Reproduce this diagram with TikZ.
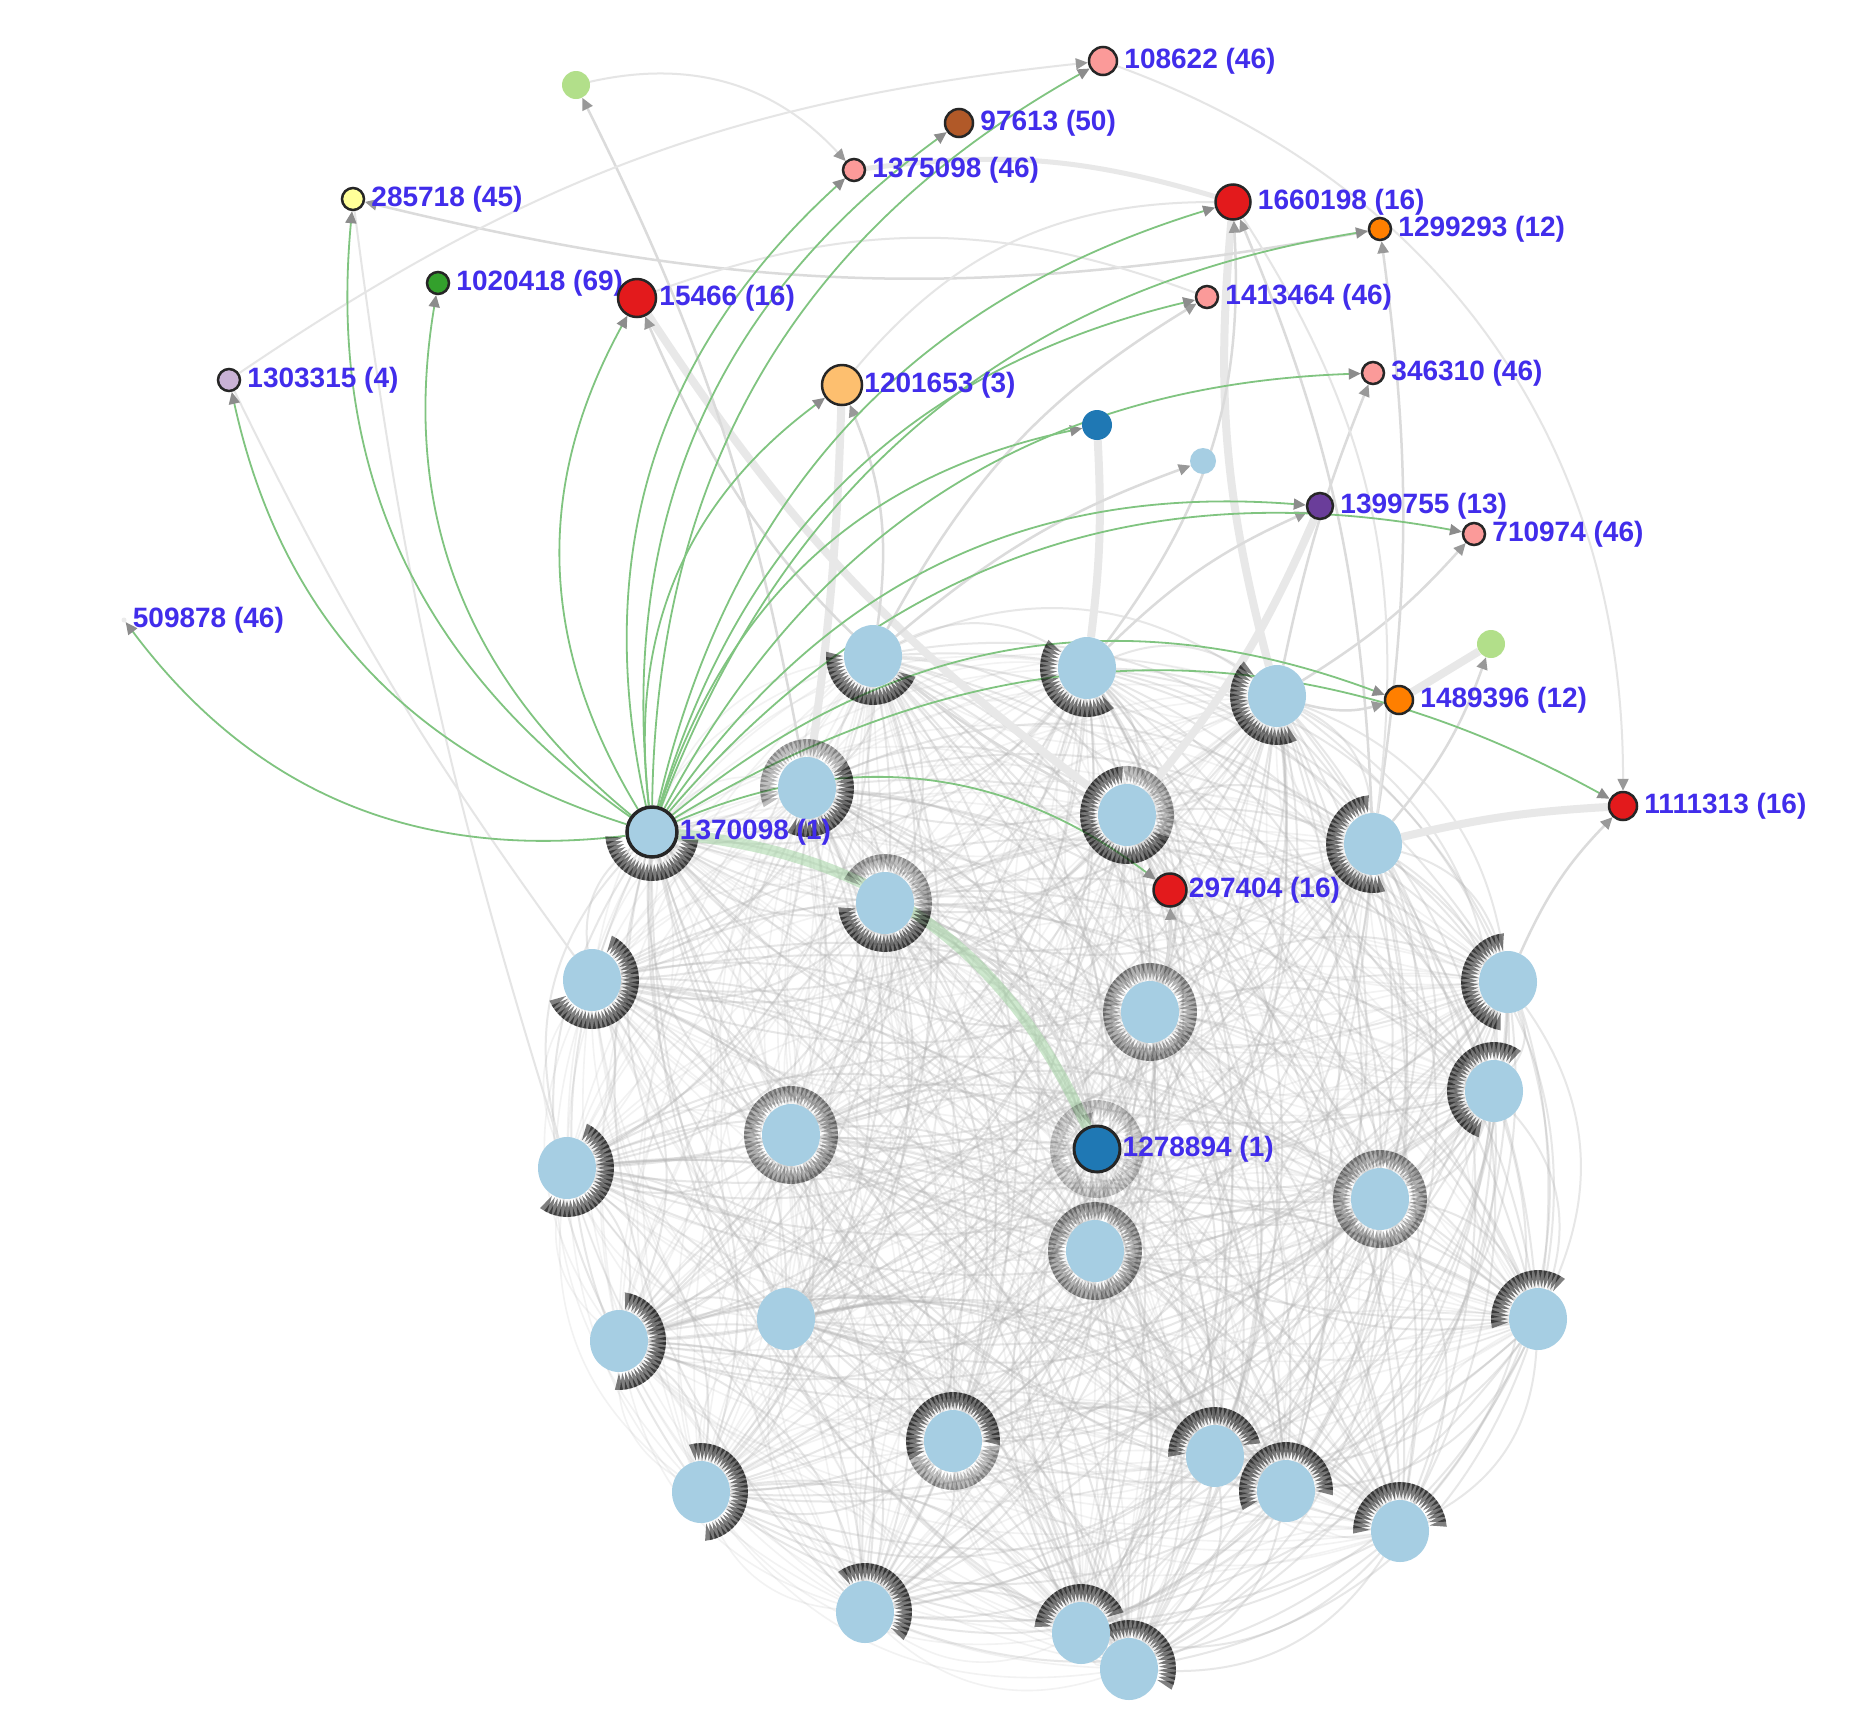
\documentclass[tikz,border=0pt]{standalone}
\usepackage{fontspec}
\setmainfont{Liberation Sans}
\usetikzlibrary{arrows.meta,shapes.geometric,calc}
\definecolor{lblue}{HTML}{A6CEE3}
\definecolor{dblue}{HTML}{1F78B4}
\definecolor{lgreen}{HTML}{B2DF8A}
\definecolor{dgreen}{HTML}{33A02C}
\definecolor{pinkc}{HTML}{FB9A99}
\definecolor{redc}{HTML}{E31A1C}
\definecolor{lorange}{HTML}{FDBF6F}
\definecolor{orangec}{HTML}{FF7F00}
\definecolor{lilac}{HTML}{CAB2D6}
\definecolor{purplec}{HTML}{6A3D9A}
\definecolor{yellowc}{HTML}{FFFF99}
\definecolor{brownc}{HTML}{B15928}
\definecolor{labelc}{RGB}{65,45,235}
\definecolor{edgegreen}{RGB}{128,196,128}
\pgfdeclarelayer{paper}
\pgfdeclarelayer{edges}
\pgfdeclarelayer{fringe}
\pgfsetlayers{paper,edges,fringe,main}
\newcommand\myfringe[5]{%
  \pgfmathtruncatemacro\nfr{(#3-#2)/6}%
  \foreach \k in {0,...,\nfr}{%
    \pgfmathsetmacro\ang{#2+6*\k}%
    \fill[#4,opacity=#5]
      ($(#1.center)+({30*cos(\ang)},{-32*sin(\ang)})$)
      -- ($(#1.center)+({47*cos(\ang-5)},{-49*sin(\ang-5)})$)
      -- ($(#1.center)+({47*cos(\ang+5)},{-49*sin(\ang+5)})$) -- cycle;
  }}
\tikzset{
  cl/.style={ellipse,fill=lblue,minimum width=58pt,minimum height=62pt,inner sep=0pt},
  sn/.style={circle,draw=black!85,line width=2.5pt,inner sep=0pt,minimum size=#1},
  pn/.style={circle,inner sep=0pt,minimum size=#1},
  lab/.style={text=labelc,font=\fontsize{28}{30}\selectfont\bfseries,inner sep=1pt},
  gedge/.style={draw=edgegreen,line width=1.8pt,-{Triangle[width=11pt,length=12pt,color=black!45]}},
  gray1/.style={draw=black!14,line width=2.5pt,-{Triangle[width=11pt,length=12pt,color=black!40]}},
  faint/.style={draw=black!10,line width=2pt},
  tgray/.style={draw=black!9,line width=8pt},
  mesh/.style={draw=black!30,line width=2pt,opacity=.3},
  meshb/.style={draw=black!30,line width=1.6pt,opacity=.16},
}
\begin{document}
\begin{tikzpicture}[x=1pt,y=-1pt,label distance=5pt]
\useasboundingbox (0,0) rectangle (1850,1730);
\begin{pgfonlayer}{paper}
\fill[white] (0,0) rectangle (1850,1730);
\end{pgfonlayer}
% cluster nodes
\node[cl] (c1) at (873,656) {};
\node[cl] (c2) at (1087,668) {};
\node[cl] (c3) at (1277,696) {};
\node[cl] (c4) at (807,788) {};
\node[cl] (c5) at (1127,815) {};
\node[cl] (c6) at (1373,844) {};
\node[cl] (c7) at (885,903) {};
\node[cl] (c8) at (592,980) {};
\node[cl] (c9) at (1150,1012) {};
\node[cl] (c10) at (1508,982) {};
\node[cl] (c11) at (1494,1091) {};
\node[cl] (c12) at (791,1135) {};
\node[cl] (c13) at (567,1168) {};
\node[cl] (c14) at (1380,1199) {};
\node[cl] (c15) at (1095,1251) {};
\node[cl] (c16) at (619,1341) {};
\node[cl] (c17) at (786,1319) {};
\node[cl] (c18) at (1538,1319) {};
\node[cl] (c19) at (953,1441) {};
\node[cl] (c20) at (1215,1456) {};
\node[cl] (c21) at (1286,1491) {};
\node[cl] (c22) at (1400,1531) {};
\node[cl] (c23) at (701,1492) {};
\node[cl] (c24) at (865,1612) {};
\node[cl] (c25) at (1081,1633) {};
\node[cl] (c26) at (1129,1669) {};
\node[sn=50pt,fill=lblue,line width=3.5pt,alias=c27,label={[lab,label distance=0pt]right:1370098 (1)}] (n1370098) at (652,832) {};
\node[sn=46pt,fill=dblue,line width=3pt,alias=c28,label={[lab,label distance=0pt]right:1278894 (1)}] (n1278894) at (1097,1149) {};
\node[sn=33pt,fill=redc,label={[lab,label distance=0pt]right:297404 (16)}] (n297404) at (1170,890) {};
% outer nodes
\node[pn=28pt,fill=lgreen] (lgtop) at (576,85) {};
\node[sn=28pt,fill=pinkc,label={[lab]right:108622 (46)}] (n108622) at (1103,61) {};
\node[sn=28pt,fill=brownc,label={[lab]right:97613 (50)}] (n97613) at (959,123) {};
\node[sn=22pt,fill=pinkc,label={[lab]right:1375098 (46)}] (n1375098) at (854,170) {};
\node[sn=22pt,fill=yellowc,label={[lab]right:285718 (45)}] (n285718) at (353,199) {};
\node[sn=35pt,fill=redc,label={[lab]right:1660198 (16)}] (n1660198) at (1233,202) {};
\node[sn=22pt,fill=orangec,label={[lab]right:1299293 (12)}] (n1299293) at (1380,229) {};
\node[sn=22pt,fill=dgreen,label={[lab]right:1020418 (69)}] (n1020418) at (438,283) {};
\node[sn=38pt,fill=redc,label={[lab,label distance=1pt]right:15466 (16)}] (n15466) at (637,298) {};
\node[sn=22pt,fill=pinkc,label={[lab]right:1413464 (46)}] (n1413464) at (1207,297) {};
\node[sn=22pt,fill=lilac,label={[lab]right:1303315 (4)}] (n1303315) at (229,380) {};
\node[sn=40pt,fill=lorange,label={[lab,label distance=0pt]right:1201653 (3)}] (n1201653) at (842,385) {};
\node[sn=22pt,fill=pinkc,label={[lab]right:346310 (46)}] (n346310) at (1373,373) {};
\node[pn=30pt,fill=dblue] (nblue) at (1097,425) {};
\node[pn=26pt,fill=lblue] (lbsmall) at (1203,461) {};
\node[sn=26pt,fill=purplec,label={[lab]right:1399755 (13)}] (n1399755) at (1320,506) {};
\node[sn=22pt,fill=pinkc,label={[lab]right:710974 (46)}] (n710974) at (1474,534) {};
\node[pn=5pt,fill=black!8,label={[lab]right:509878 (46)}] (n509878) at (124,620) {};
\node[pn=28pt,fill=lgreen] (lgright) at (1491,644) {};
\node[sn=28pt,fill=orangec,label={[lab]right:1489396 (12)}] (n1489396) at (1399,700) {};
\node[sn=28pt,fill=redc,label={[lab]right:1111313 (16)}] (n1111313) at (1623,806) {};

\begin{pgfonlayer}{edges}
% dense mesh
\foreach \i in {1,...,27}{%
  \pgfmathtruncatemacro\s{\i+1}%
  \foreach \j in {\s,...,28}{%
    \draw[mesh] (c\i) to[bend left=30] (c\j);
    \draw[meshb] (c\i) to[bend right=30] (c\j);
  }}
% thick gray edges
\draw[tgray] (n1201653) to[bend left=3] (c4);
\draw[tgray] (nblue) to[bend left=5] (c2);
\draw[tgray] (n15466) to[bend right=10] (c5);
\draw[tgray] (c6) to[bend left=5] (n1111313);
\draw[tgray] (n1489396) -- (lgright);
\draw[tgray] (c3) to[bend left=10] (n1660198);
\draw[tgray] (c5) to[bend right=8] (n1399755);
\draw[tgray,line width=5pt] (n1375098) to[bend left=12] (n1660198);
% gray edges with tips
\draw[gray1] (c4) to[bend right=8] (lgtop);
\draw[faint,-{Triangle[width=11pt,length=12pt,color=black!40]}] (lgtop) to[bend left=30] (n1375098);
\draw[gray1] (n1299293) to[bend left=12] (n285718);
\draw[faint,-{Triangle[width=11pt,length=12pt,color=black!40]}] (n1303315) to[bend left=14] (n108622);
\draw[faint,-{Triangle[width=11pt,length=12pt,color=black!40]}] (n108622) to[bend left=35] (n1111313);
\draw[gray1] (c6) to[bend right=10] (n1660198);
\draw[gray1] (c6) to[bend right=8] (n1299293);
\draw[gray1] (c1) to[bend left=15] (n1413464);
\draw[gray1] (c3) to[bend left=5] (n346310);
\draw[gray1] (c2) to[bend left=10] (n1399755);
\draw[gray1] (c3) to[bend right=8] (n710974);
\draw[gray1] (c6) to[bend right=10] (lgright);
\draw[gray1] (c10) to[bend left=10] (n1111313);
\draw[gray1] (c1) to[bend left=10] (lbsmall);
\draw[gray1] (c1) to[bend right=15] (n1201653);
\draw[gray1] (c5) to[bend left=20] (n15466);
\draw[gray1] (c2) to[bend right=20] (n1660198);
\draw[gray1] (c9) to[bend right=10] (n297404);
\draw[gray1] (c3) to[bend right=15] (n1489396);
\draw[gray1] (c7) to[bend left=25] (n1278894);
\draw[faint] (c13) to[bend left=5] (n285718);
\draw[faint] (c8) to[bend left=5] (n1303315);
\draw[faint] (n1413464) to[bend right=20] (n15466);
\draw[faint] (n1660198) to[bend right=25] (n1201653);
\draw[faint] (n1660198) to[bend left=20] (c6);
% green edges
\draw[draw=edgegreen!70,line width=11pt,opacity=.55] (n1370098) to[bend left=30] (n1278894);
\foreach \t in {n509878,n1303315,n285718,n1020418,n15466,n1375098,n97613,n108622,n1201653,n1660198,n1299293,n1413464,nblue,n346310,n1399755,n710974,n1489396,n1111313,n297404}{%
  \draw[gedge] (n1370098) to[bend left=30] (\t);
}
\end{pgfonlayer}

\begin{pgfonlayer}{fringe}
\myfringe{c1}{180}{330}{black}{.5}
\myfringe{c2}{150}{300}{black}{.5}
\myfringe{c3}{140}{290}{black}{.5}
\myfringe{c4}{-110}{30}{black}{.5}
\myfringe{c4}{36}{200}{black}{.25}
\myfringe{c5}{100}{330}{black}{.5}
\myfringe{c5}{-30}{95}{black}{.25}
\myfringe{c6}{100}{280}{black}{.5}
\myfringe{c7}{190}{350}{black}{.5}
\myfringe{c7}{-10}{150}{black}{.25}
\myfringe{c8}{-150}{60}{black}{.5}
\myfringe{c9}{0}{354}{black}{.3}
\myfringe{c10}{100}{260}{black}{.5}
\myfringe{c11}{60}{250}{black}{.5}
\myfringe{c12}{0}{354}{black}{.3}
\myfringe{c13}{-120}{60}{black}{.5}
\myfringe{c14}{0}{354}{black}{.3}
\myfringe{c15}{0}{354}{black}{.3}
\myfringe{c16}{-90}{80}{black}{.5}
\myfringe{c18}{60}{190}{black}{.5}
\myfringe{c19}{0}{200}{black}{.5}
\myfringe{c19}{206}{354}{black}{.25}
\myfringe{c20}{20}{180}{black}{.5}
\myfringe{c21}{0}{200}{black}{.5}
\myfringe{c22}{10}{180}{black}{.5}
\myfringe{c23}{-80}{100}{black}{.5}
\myfringe{c24}{-30}{120}{black}{.5}
\myfringe{c25}{30}{170}{black}{.5}
\myfringe{c26}{-20}{120}{black}{.5}
\myfringe{n1370098}{190}{350}{black}{.5}
\myfringe{n1278894}{0}{354}{black}{.15}
\end{pgfonlayer}
\end{tikzpicture}
\end{document}
